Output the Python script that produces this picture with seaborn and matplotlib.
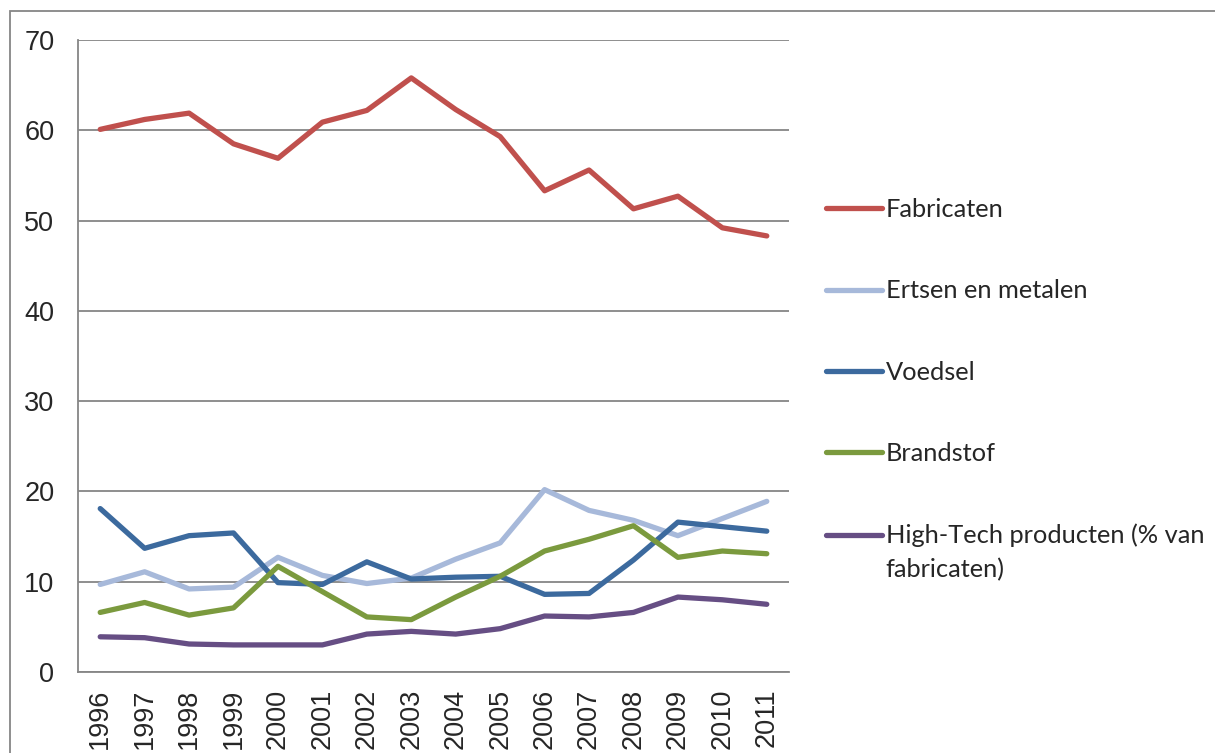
import pandas as pd
import matplotlib.pyplot as plt
import matplotlib.patches as patches
from matplotlib.ticker import MultipleLocator, FixedLocator
import seaborn as sns

# Values
years = [str(y) for y in range(1996, 2012)]
fabricaten = [60.1, 61.2, 61.9, 58.5, 56.9, 60.9, 62.2, 65.8, 62.3, 59.3, 53.3, 55.6, 51.3, 52.7, 49.2, 48.3]
ertsen = [9.7, 11.1, 9.2, 9.4, 12.7, 10.7, 9.8, 10.4, 12.5, 14.3, 20.2, 17.9, 16.8, 15.1, 17.0, 18.9]
voedsel = [18.1, 13.7, 15.1, 15.4, 9.9, 9.7, 12.2, 10.3, 10.5, 10.6, 8.6, 8.7, 12.4, 16.6, 16.1, 15.6]
brandstof = [6.6, 7.7, 6.3, 7.1, 11.7, 8.9, 6.1, 5.8, 8.3, 10.6, 13.4, 14.7, 16.2, 12.7, 13.4, 13.1]
hightech = [3.9, 3.8, 3.1, 3.0, 3.0, 3.0, 4.2, 4.5, 4.2, 4.8, 6.2, 6.1, 6.6, 8.3, 8.0, 7.5]

series_names = ["Fabricaten", "Ertsen en metalen", "Voedsel", "Brandstof",
                "High-Tech producten (% van fabricaten)"]
series_values = [fabricaten, ertsen, voedsel, brandstof, hightech]
colors = ["#C0504D", "#A7B9DA", "#3C6A9E", "#7B9A3E", "#664E84"]

# long-form table for seaborn
rows = []
for name, vals in zip(series_names, series_values):
    for i, v in enumerate(vals):
        rows.append({"pos": i, "year": years[i], "serie": name, "waarde": v})
df = pd.DataFrame(rows)

sns.set_style("white")
plt.rcParams['font.family'] = ['Liberation Sans', 'DejaVu Sans']

W, H = 1215, 753
fig = plt.figure(figsize=(W / 100, H / 100), dpi=100)
ax = fig.add_axes([78 / W, 1 - 672 / H, (789 - 78) / W, (672 - 40) / H])

grid_color = "#868686"
sns.lineplot(data=df, x="pos", y="waarde", hue="serie", hue_order=series_names,
             palette=dict(zip(series_names, colors)), linewidth=3.8, ax=ax,
             legend=False, zorder=3)

ax.set_xlim(-0.5, len(years) - 0.5)
ax.set_ylim(0, 70)
ax.yaxis.set_major_locator(MultipleLocator(10))
ax.grid(axis="y", color=grid_color, linewidth=1.3, zorder=1)
ax.grid(axis="x", visible=False)

# category labels in the middle, tick marks on the boundaries
ax.set_xticks(range(len(years)))
ax.set_xticklabels(years, rotation=90, fontsize=19.5)
ax.xaxis.set_minor_locator(FixedLocator([i - 0.5 for i in range(len(years) + 1)]))
ax.tick_params(axis="x", which="major", length=0, pad=12)
ax.tick_params(axis="x", which="minor", length=8, width=1.3, color=grid_color, direction="out")
ax.tick_params(axis="y", which="major", length=8, width=1.3, color=grid_color,
               direction="out", labelsize=19.5, pad=9)
ax.set_xlabel("")
ax.set_ylabel("")

for side in ["top", "right"]:
    ax.spines[side].set_visible(False)
for side in ["left", "bottom"]:
    ax.spines[side].set_color(grid_color)
    ax.spines[side].set_linewidth(1.3)

# legend on the right; the long label wraps like in the original
labels = series_names[:-1] + ["High-Tech producten (% van"]
handles = [plt.Line2D([], [], color=c, linewidth=3.8, solid_capstyle="round") for c in colors]
leg = fig.legend(handles, labels, loc="upper left",
                 bbox_to_anchor=(826 / W, 1 - 198 / H), frameon=False,
                 prop={"family": "Lato", "size": 18.3}, handlelength=2.2,
                 handletextpad=0.15, labelspacing=2.3, borderpad=0, borderaxespad=0)

fig.canvas.draw()
bb = leg.get_texts()[-1].get_window_extent()
fig.text(bb.x0 / W, (bb.y0 - 34) / H, "fabricaten)", family="Lato", size=18.3,
         ha="left", va="bottom")

# outer chart border
fig.patches.append(patches.Rectangle((10 / W, -0.1), 1.2, 1 - 11 / H + 0.1,
                                     transform=fig.transFigure, fill=False,
                                     edgecolor=grid_color, linewidth=1.3))

fig.savefig("out.png", dpi=100)
